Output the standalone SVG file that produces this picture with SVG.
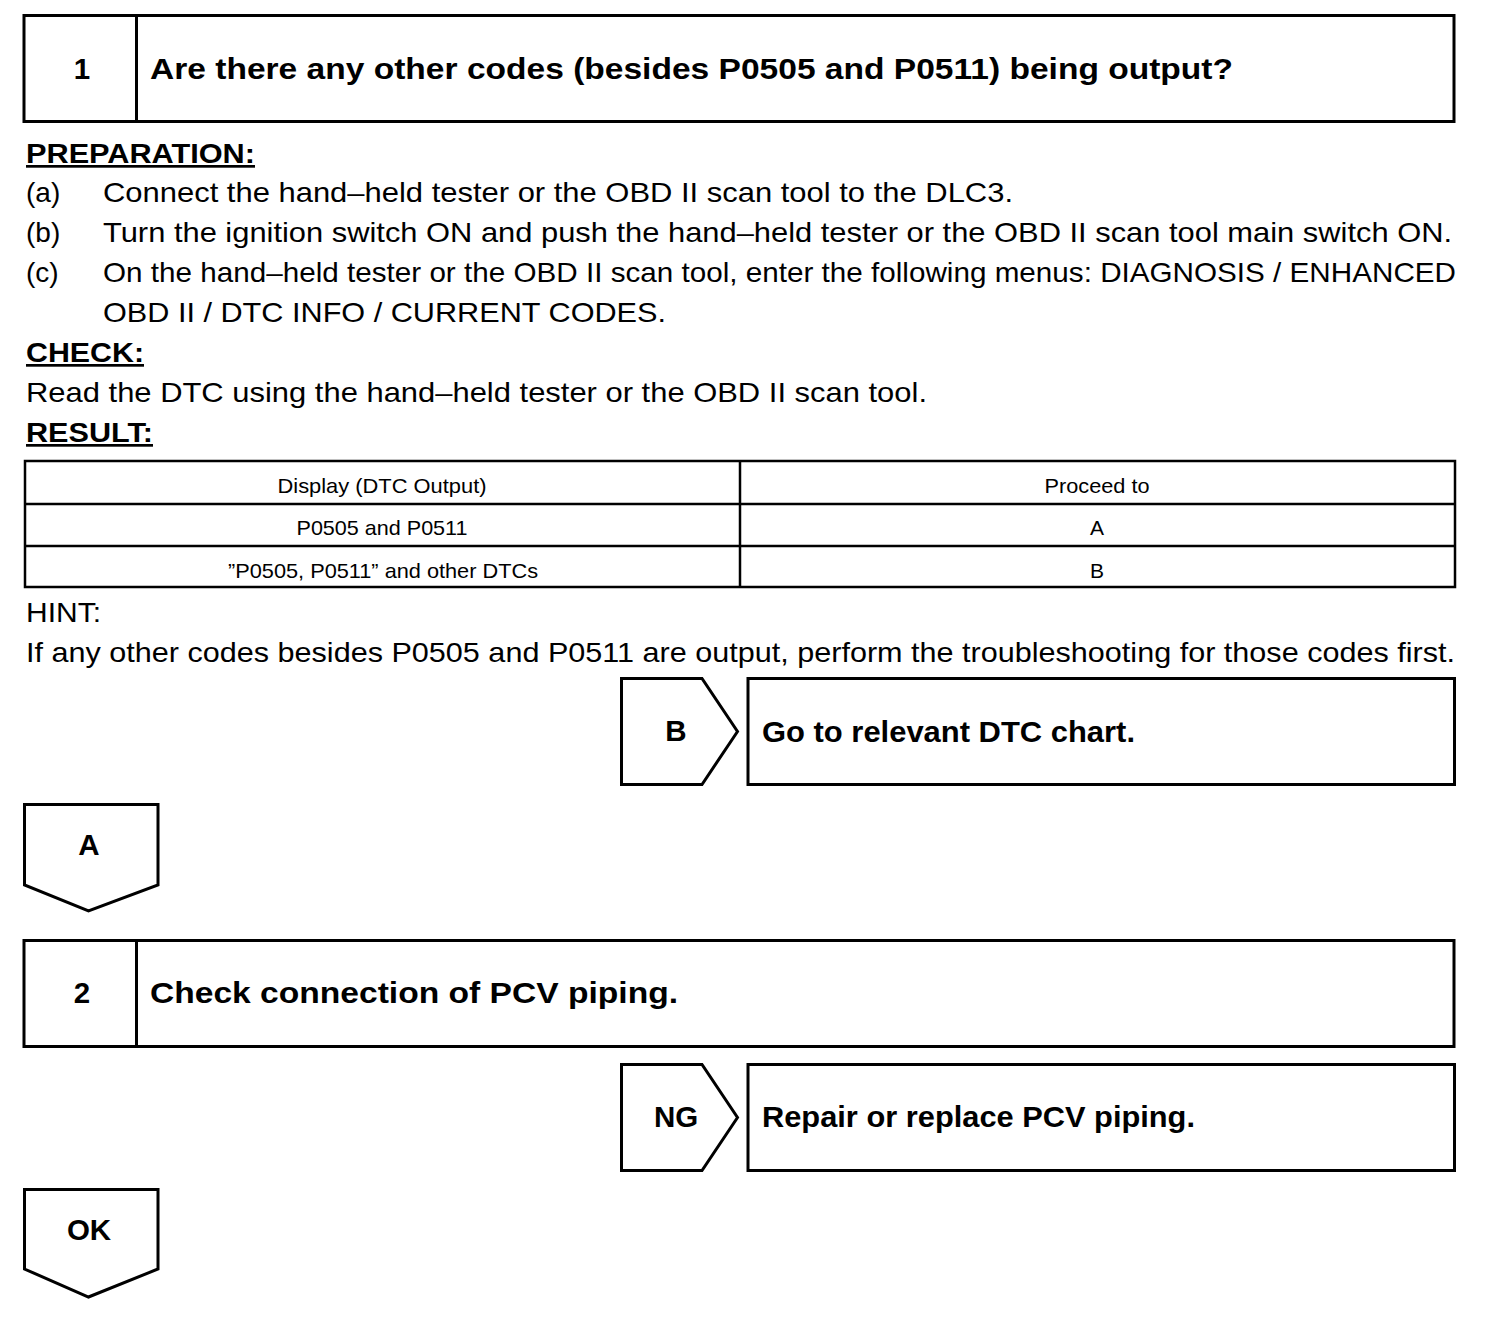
<svg xmlns="http://www.w3.org/2000/svg" width="1504" height="1330" viewBox="0 0 1504 1330">
<style>
.ln{fill:#fff;stroke:#000;stroke-width:3}
.tb{fill:none;stroke:#000;stroke-width:2.5}
.b{font-family:"Liberation Sans",Arial,sans-serif;font-weight:bold;font-size:29.5px;fill:#000}
.r{font-family:"Liberation Sans",Arial,sans-serif;font-size:28px;fill:#000}
.s{font-family:"Liberation Sans",Arial,sans-serif;font-size:21px;fill:#000;text-anchor:middle}
.h{font-family:"Liberation Sans",Arial,sans-serif;font-weight:bold;font-size:27px;fill:#000;text-decoration:underline}
.c{text-anchor:middle}
</style>
<rect width="1504" height="1330" fill="#fff"/>
<g id="step1">
<rect class="ln" x="24" y="15.5" width="1430" height="106"/>
<line class="ln" x1="136.5" y1="15.5" x2="136.5" y2="121.5"/>
<text class="b c" x="82" y="79">1</text>
<text class="b" x="150" y="79" textLength="1083" lengthAdjust="spacingAndGlyphs">Are there any other codes (besides P0505 and P0511) being output?</text>
</g>
<g id="text1">
<text class="h" x="26" y="163" textLength="229" lengthAdjust="spacingAndGlyphs">PREPARATION:</text>
<text class="r" x="26" y="202">(a)</text>
<text class="r" x="103" y="202" textLength="910" lengthAdjust="spacingAndGlyphs">Connect the hand–held tester or the OBD II scan tool to the DLC3.</text>
<text class="r" x="26" y="242">(b)</text>
<text class="r" x="103" y="242" textLength="1349" lengthAdjust="spacingAndGlyphs">Turn the ignition switch ON and push the hand–held tester or the OBD II scan tool main switch ON.</text>
<text class="r" x="26" y="282">(c)</text>
<text class="r" x="103" y="282" textLength="1353" lengthAdjust="spacingAndGlyphs">On the hand–held tester or the OBD II scan tool, enter the following menus: DIAGNOSIS / ENHANCED</text>
<text class="r" x="103" y="322" textLength="563" lengthAdjust="spacingAndGlyphs">OBD II / DTC INFO / CURRENT CODES.</text>
<text class="h" x="26" y="362" textLength="118" lengthAdjust="spacingAndGlyphs">CHECK:</text>
<text class="r" x="26" y="402" textLength="901" lengthAdjust="spacingAndGlyphs">Read the DTC using the hand–held tester or the OBD II scan tool.</text>
<text class="h" x="26" y="442" textLength="127" lengthAdjust="spacingAndGlyphs">RESULT:</text>
</g>
<g id="table">
<rect class="tb" x="25" y="461" width="1430" height="126"/>
<line class="tb" x1="740" y1="461" x2="740" y2="587"/>
<line class="tb" x1="25" y1="504" x2="1455" y2="504"/>
<line class="tb" x1="25" y1="546" x2="1455" y2="546"/>
<text class="s" x="382" y="493" textLength="209" lengthAdjust="spacingAndGlyphs">Display (DTC Output)</text>
<text class="s" x="1097" y="493" textLength="105" lengthAdjust="spacingAndGlyphs">Proceed to</text>
<text class="s" x="382" y="535" textLength="171" lengthAdjust="spacingAndGlyphs">P0505 and P0511</text>
<text class="s" x="1097" y="535">A</text>
<text class="s" x="383" y="578" textLength="310" lengthAdjust="spacingAndGlyphs">”P0505, P0511” and other DTCs</text>
<text class="s" x="1097" y="578">B</text>
</g>
<g id="hint">
<text class="r" x="26" y="622" textLength="75" lengthAdjust="spacingAndGlyphs">HINT:</text>
<text class="r" x="26" y="662" textLength="1429" lengthAdjust="spacingAndGlyphs">If any other codes besides P0505 and P0511 are output, perform the troubleshooting for those codes first.</text>
</g>
<g id="tagB">
<polygon class="ln" points="621.5,678.5 702,678.5 737.5,731.5 702,784.5 621.5,784.5"/>
<text class="b c" x="676" y="741" font-size="27">B</text>
</g>
<g id="resultB">
<rect class="ln" x="748" y="678.5" width="706.5" height="106"/>
<text class="b" x="762" y="742" textLength="373" lengthAdjust="spacingAndGlyphs">Go to relevant DTC chart.</text>
</g>
<g id="tagA">
<polygon class="ln" points="24.5,804.5 158,804.5 158,885 88.5,911 24.5,885"/>
<text class="b c" x="89" y="855" font-size="27">A</text>
</g>
<g id="step2">
<rect class="ln" x="24" y="940.5" width="1430" height="106"/>
<line class="ln" x1="136.5" y1="940.5" x2="136.5" y2="1046.5"/>
<text class="b c" x="82" y="1003">2</text>
<text class="b" x="150" y="1003" textLength="528" lengthAdjust="spacingAndGlyphs">Check connection of PCV piping.</text>
</g>
<g id="tagNG">
<polygon class="ln" points="621.5,1064.5 702,1064.5 737.5,1117.5 702,1170.5 621.5,1170.5"/>
<text class="b c" x="676" y="1127" font-size="27">NG</text>
</g>
<g id="resultNG">
<rect class="ln" x="748" y="1064.5" width="706.5" height="106"/>
<text class="b" x="762" y="1127" textLength="433" lengthAdjust="spacingAndGlyphs">Repair or replace PCV piping.</text>
</g>
<g id="tagOK">
<polygon class="ln" points="24.5,1189.5 158,1189.5 158,1269 88.5,1297 24.5,1269"/>
<text class="b c" x="89" y="1240" font-size="27">OK</text>
</g>
<g id="connectors"></g>
</svg>
